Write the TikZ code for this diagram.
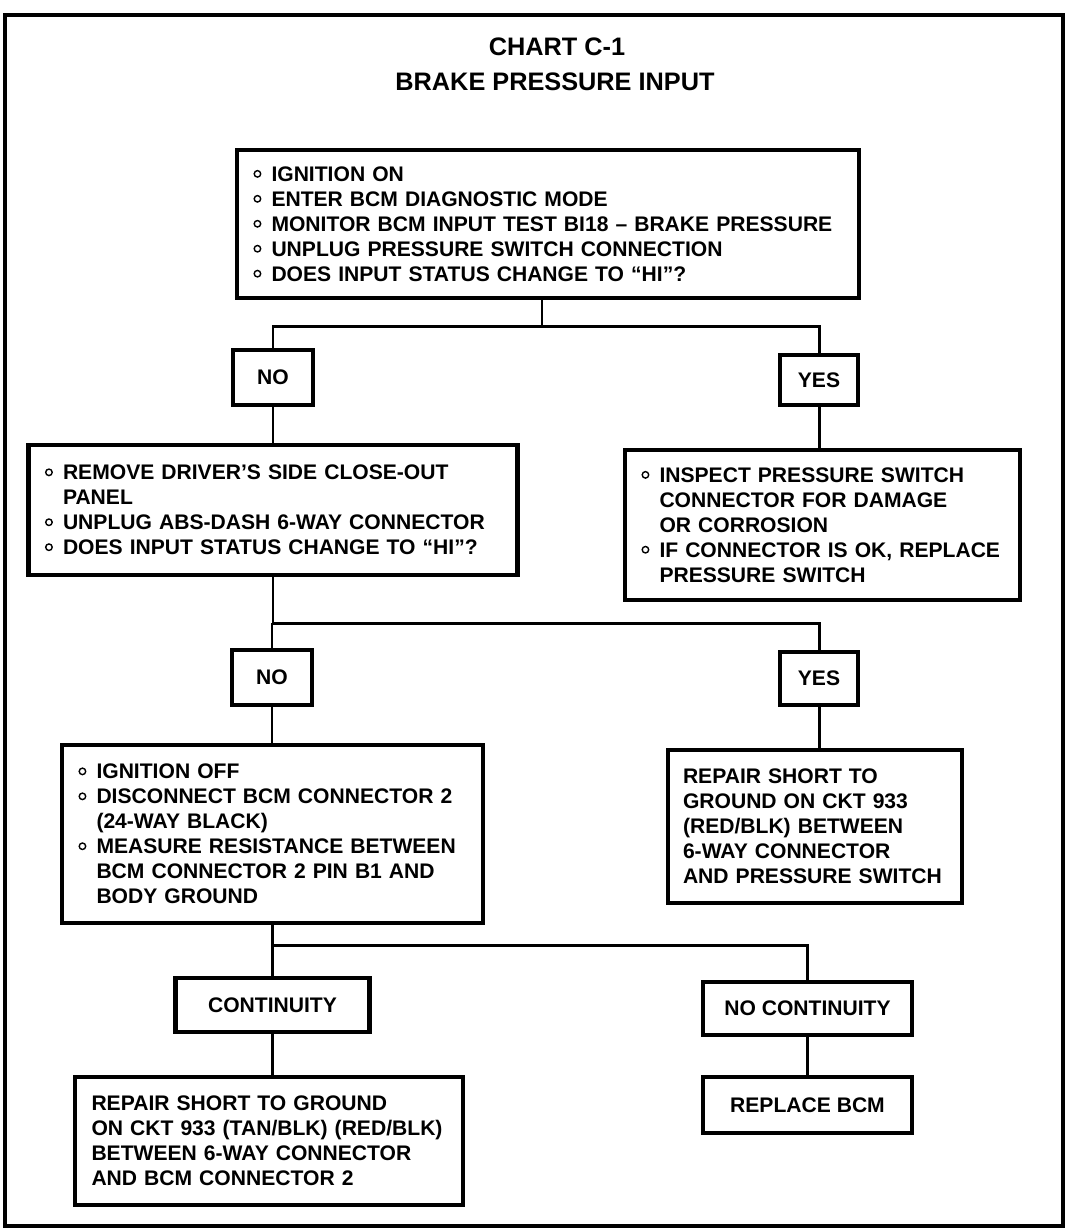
\documentclass[tikz,border=0pt]{standalone}
\usepackage{fontspec}
\setmainfont{Liberation Sans}
\usepackage{tikz}

\newcommand{\bodyfont}{\fontsize{12}{14.2}\selectfont\bfseries}
\newcommand{\titlefont}{\fontsize{14.4}{17}\selectfont\bfseries}
\newcommand{\bul}{\makebox[0.36cm][l]{\tikz[baseline=-0.15cm]\draw[line width=0.8pt] (0.065,0) circle (0.065cm);}}
\newcommand{\ind}{\hspace*{0.36cm}}

\tikzset{
  stepbox/.style={draw, line width=2.5pt, inner xsep=0.33cm, align=left, font=\bodyfont},
  answer/.style={draw, line width=2.5pt, inner sep=0pt, align=center, font=\bodyfont},
  link/.style={line width=1.7pt},
}

\begin{document}
\begin{tikzpicture}
        \useasboundingbox (0,0) rectangle (21.44,-24.64);
        \draw [line width=2.8pt] (0.1,-0.3) rectangle (21.26,-24.52);
        \node [font=\titlefont] (title) at (11.14,-0.94) {CHART C-1};
        \node [font=\titlefont] (subtitle) at (11.1,-1.64) {BRAKE PRESSURE INPUT};
        % first test
        \node [stepbox, text width=11.78cm, minimum height=2.96cm] (b1) at (10.96,-4.48)
              {\bul IGNITION ON\\
               \bul ENTER BCM DIAGNOSTIC MODE\\
               \bul MONITOR BCM INPUT TEST BI18 -- BRAKE PRESSURE\\
               \bul UNPLUG PRESSURE SWITCH CONNECTION\\
               \bul DOES INPUT STATUS CHANGE TO ``HI''?};
        \node [answer, minimum width=1.6cm, minimum height=1.1cm] (no1) at (5.46,-7.55) {NO};
        \node [answer, minimum width=1.56cm, minimum height=1.0cm] (yes1) at (16.38,-7.6) {YES};
        \node [stepbox, text width=9.12cm, minimum height=2.6cm] (b2) at (5.46,-10.2)
              {\bul REMOVE DRIVER'S SIDE CLOSE-OUT\\
               \ind PANEL\\
               \bul UNPLUG ABS-DASH 6-WAY CONNECTOR\\
               \bul DOES INPUT STATUS CHANGE TO ``HI''?};
        \node [stepbox, text width=7.24cm, minimum height=3.0cm] (b3) at (16.45,-10.5)
              {\bul INSPECT PRESSURE SWITCH\\
               \ind CONNECTOR FOR DAMAGE\\
               \ind OR CORROSION\\
               \bul IF CONNECTOR IS OK, REPLACE\\
               \ind PRESSURE SWITCH};
        % second test
        \node [answer, minimum width=1.6cm, minimum height=1.1cm] (no2) at (5.44,-13.55) {NO};
        \node [answer, minimum width=1.56cm, minimum height=1.06cm] (yes2) at (16.38,-13.57) {YES};
        \node [stepbox, text width=7.76cm, minimum height=3.56cm] (b4) at (5.45,-16.68)
              {\bul IGNITION OFF\\
               \bul DISCONNECT BCM CONNECTOR 2\\
               \ind (24-WAY BLACK)\\
               \bul MEASURE RESISTANCE BETWEEN\\
               \ind BCM CONNECTOR 2 PIN B1 AND\\
               \ind BODY GROUND};
        \node [stepbox, inner xsep=0.3cm, text width=5.28cm, minimum height=3.06cm] (b5) at (16.3,-16.53)
              {REPAIR SHORT TO\\
               GROUND ON CKT 933\\
               (RED/BLK) BETWEEN\\
               6-WAY CONNECTOR\\
               AND PRESSURE SWITCH};
        % third test
        \node [answer, minimum width=3.88cm, minimum height=1.08cm] (cont) at (5.45,-20.1) {CONTINUITY};
        \node [answer, minimum width=4.18cm, minimum height=1.06cm] (nocont) at (16.15,-20.17) {NO CONTINUITY};
        \node [stepbox, text width=7.1cm, minimum height=2.56cm] (b6) at (5.38,-22.82)
              {REPAIR SHORT TO GROUND\\
               ON CKT 933 (TAN/BLK) (RED/BLK)\\
               BETWEEN 6-WAY CONNECTOR\\
               AND BCM CONNECTOR 2};
        \node [answer, minimum width=4.18cm, minimum height=1.12cm] (repl) at (16.15,-22.1) {REPLACE BCM};
        % connectors
        \coordinate (s1) at (0,-6.52);
        \coordinate (s2) at (0,-12.46);
        \coordinate (s3) at (0,-18.9);
        \coordinate (b1out) at ([xshift=-0.12cm]b1.south);
        \draw [link] (b1out) -- (b1out |- s1);
        \draw [link] (no1.north) -- (no1.north |- s1) -| (yes1.north);
        \draw [link] (no1.south) -- (no1.south |- b2.north);
        \draw [link] (yes1.south) -- (yes1.south |- b3.north);
        \draw [link] (b2.south) -- (b2.south |- s2) -| (yes2.north);
        \draw [link] (no2.north) -- (no2.north |- s2);
        \draw [link] (no2.south) -- (no2.south |- b4.north);
        \draw [link] (yes2.south) -- (yes2.south |- b5.north);
        \draw [link] (b4.south) -- (b4.south |- s3) -| (nocont.north);
        \draw [link] (cont.north) -- (cont.north |- s3);
        \draw [link] (cont.south) -- (cont.south |- b6.north);
        \draw [link] (nocont.south) -- (repl.north);
\end{tikzpicture}
\end{document}
